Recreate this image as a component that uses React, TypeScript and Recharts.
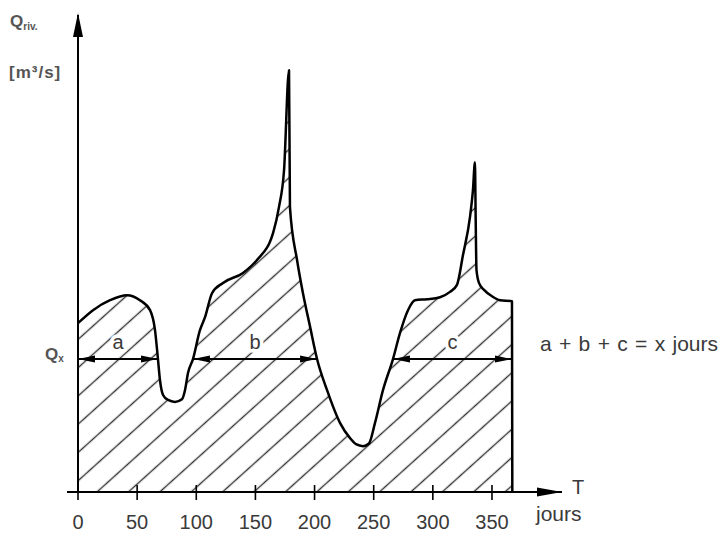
import React from 'react';
import { ComposedChart, Area, XAxis, YAxis, ReferenceLine, ReferenceDot } from 'recharts';

const T_DAYS = [0, 12.7, 27.1, 41.4, 52.4, 60.9, 65.1, 67.6, 69.3, 71.9, 76.1, 82.0, 87.9, 90.5, 93.0, 97.2, 103.1, 107.4, 113.3, 122.6, 139.5, 151.3, 164.9, 169.9, 174.2, 178.4, 179.2, 185.2, 190.2, 196.1, 202.1, 210.5, 221.5, 230.0, 235.0, 241.0, 246.0, 251.1, 257.9, 266.3, 272.2, 279.0, 284.9, 295.1, 306.1, 314.5, 320.4, 325.5, 331.4, 333.9, 335.6, 336.2, 336.9, 339.0, 343.3, 350.0, 356.8, 366.9, 367.2];
const Q_FLOW = [50.8, 54.7, 57.7, 59.2, 57.7, 54.7, 48.7, 40.0, 33.7, 29.2, 27.7, 27.1, 27.9, 30.7, 35.8, 40.0, 48.7, 52.6, 59.8, 62.9, 65.9, 69.8, 77.9, 85.7, 96.8, 126.9, 85.7, 69.8, 59.8, 49.9, 40.0, 30.7, 20.8, 16.2, 14.4, 13.8, 14.6, 20.8, 30.7, 40.0, 47.8, 54.7, 57.7, 58.0, 58.6, 60.2, 62.3, 71.3, 82.7, 90.8, 99.2, 82.7, 66.8, 62.9, 60.8, 58.9, 57.7, 57.4, 0];

const X_TICKS = [0, 50, 100, 150, 200, 250, 300, 350];
const X_DOMAIN = [-9.3, 409.2];
const Q_TOP = 143.5;
const QX = 40;

// Durations above Qx
const SEG_START = [0, 97.2, 266.3];
const SEG_END = [67.6, 202.1, 366.9];
const SEG_LABELS = ['a', 'b', 'c'];

const data = T_DAYS.map((t, i) => ({ t, q: Q_FLOW[i] }));

const FONT = '"Liberation Sans", Arial, Helvetica, sans-serif';
const TEXT = '#3a3a3a';

const renderTick = (props: any) => {
  const { x, y, payload } = props;
  return (
    <g>
      <line x1={x} x2={x} y1={y - 7} y2={y + 8} stroke="#000" strokeWidth={1.6} />
      <text x={x} y={y + 37} textAnchor="middle" fontSize={20} fill={TEXT} fontFamily={FONT}>
        {payload.value}
      </text>
    </g>
  );
};

const makeSegShape = (label: string, first: boolean) => (props: any) => {
  const { x1, y1, x2, y2 } = props;
  const mid = (x1 + x2) / 2;
  return (
    <g>
      <line x1={x1} y1={y1} x2={x2} y2={y2} stroke="#000" strokeWidth={2}
        markerStart="url(#arrowHead)" markerEnd="url(#arrowHead)" />
      <text x={mid} y={y1 - 10} textAnchor="middle" fontSize={20} fill={TEXT} fontFamily={FONT}
        stroke="#fff" strokeWidth={7} paintOrder="stroke" strokeLinejoin="round">
        {label}
      </text>
      {first && (
        <text x={x1 - 33} y={y1 + 1} fontSize={17} fontWeight="bold" fill="#555" fontFamily={FONT}>
          Q<tspan fontSize={10} dy={2}>x</tspan>
        </text>
      )}
    </g>
  );
};

const UpArrow = (props: any) => {
  const { cx, cy } = props;
  return <path d={`M${cx},${cy - 2} L${cx + 5},${cy + 22} L${cx - 5},${cy + 22} Z`} fill="#000" />;
};

const RightArrow = (props: any) => {
  const { cx, cy } = props;
  return <path d={`M${cx},${cy} L${cx - 25},${cy - 4.5} L${cx - 25},${cy + 4.5} Z`} fill="#000" />;
};

export default function App() {
  return (
    <div style={{ position: 'absolute', left: 0, top: 0, width: 720, height: 552, background: '#fff', overflow: 'hidden' }}>
      <svg width={0} height={0} style={{ position: 'absolute' }}>
        <defs>
          <pattern id="hatch" patternUnits="userSpaceOnUse" width={21} height={21} patternTransform="rotate(48)">
            <line x1={10.5} y1={0} x2={10.5} y2={21} stroke="#333" strokeWidth={1.4} />
          </pattern>
          <marker id="arrowHead" viewBox="0 0 17 8" refX={17} refY={4} markerWidth={17} markerHeight={8}
            markerUnits="userSpaceOnUse" orient="auto-start-reverse">
            <path d="M0,0.5 L17,4 L0,7.5 Z" fill="#000" />
          </marker>
        </defs>
      </svg>
      <ComposedChart width={720} height={552} data={data} margin={{ top: 15, right: 158, bottom: 30, left: 67 }}>
        <XAxis type="number" dataKey="t" domain={X_DOMAIN} ticks={X_TICKS} interval={0} allowDataOverflow
          tickLine={false} tickSize={0} tickMargin={0} height={30}
          axisLine={{ stroke: '#000', strokeWidth: 2 }} tick={renderTick} />
        <YAxis type="number" domain={[0, Q_TOP]} hide allowDataOverflow />
        <Area type="monotone" dataKey="q" stroke="#000" strokeWidth={2.5} strokeLinejoin="round"
          fill="url(#hatch)" fillOpacity={1} isAnimationActive={false} dot={false} activeDot={false} />
        <ReferenceLine x={0} stroke="#000" strokeWidth={2} ifOverflow="visible" />
        {SEG_LABELS.map((lab, i) => (
          <ReferenceLine key={lab} segment={[{ x: SEG_START[i], y: QX }, { x: SEG_END[i], y: QX }]}
            ifOverflow="visible" shape={makeSegShape(lab, i === 0)} />
        ))}
        <ReferenceDot x={0} y={Q_TOP} ifOverflow="visible" shape={UpArrow} />
        <ReferenceDot x={X_DOMAIN[1]} y={0} ifOverflow="visible" shape={RightArrow} />
      </ComposedChart>
      <svg width={720} height={552} style={{ position: 'absolute', left: 0, top: 0, pointerEvents: 'none' }}>
        <text x={10} y={27} fontSize={17} fontWeight="bold" fill="#555" fontFamily={FONT}>
          Q<tspan fontSize={10} dy={3}>riv.</tspan>
        </text>
        <text x={9} y={78} fontSize={17} fontWeight="bold" fill="#555" fontFamily={FONT} letterSpacing={1}>
          [m³/s]
        </text>
        <text x={572} y={494} fontSize={20} fill={TEXT} fontFamily={FONT}>T</text>
        <text x={536} y={521} fontSize={21} fill={TEXT} fontFamily={FONT}>jours</text>
        <text x={540} y={351} fontSize={21} fill={TEXT} fontFamily={FONT} wordSpacing={1.5}>
          a + b + c = x jours
        </text>
      </svg>
    </div>
  );
}
